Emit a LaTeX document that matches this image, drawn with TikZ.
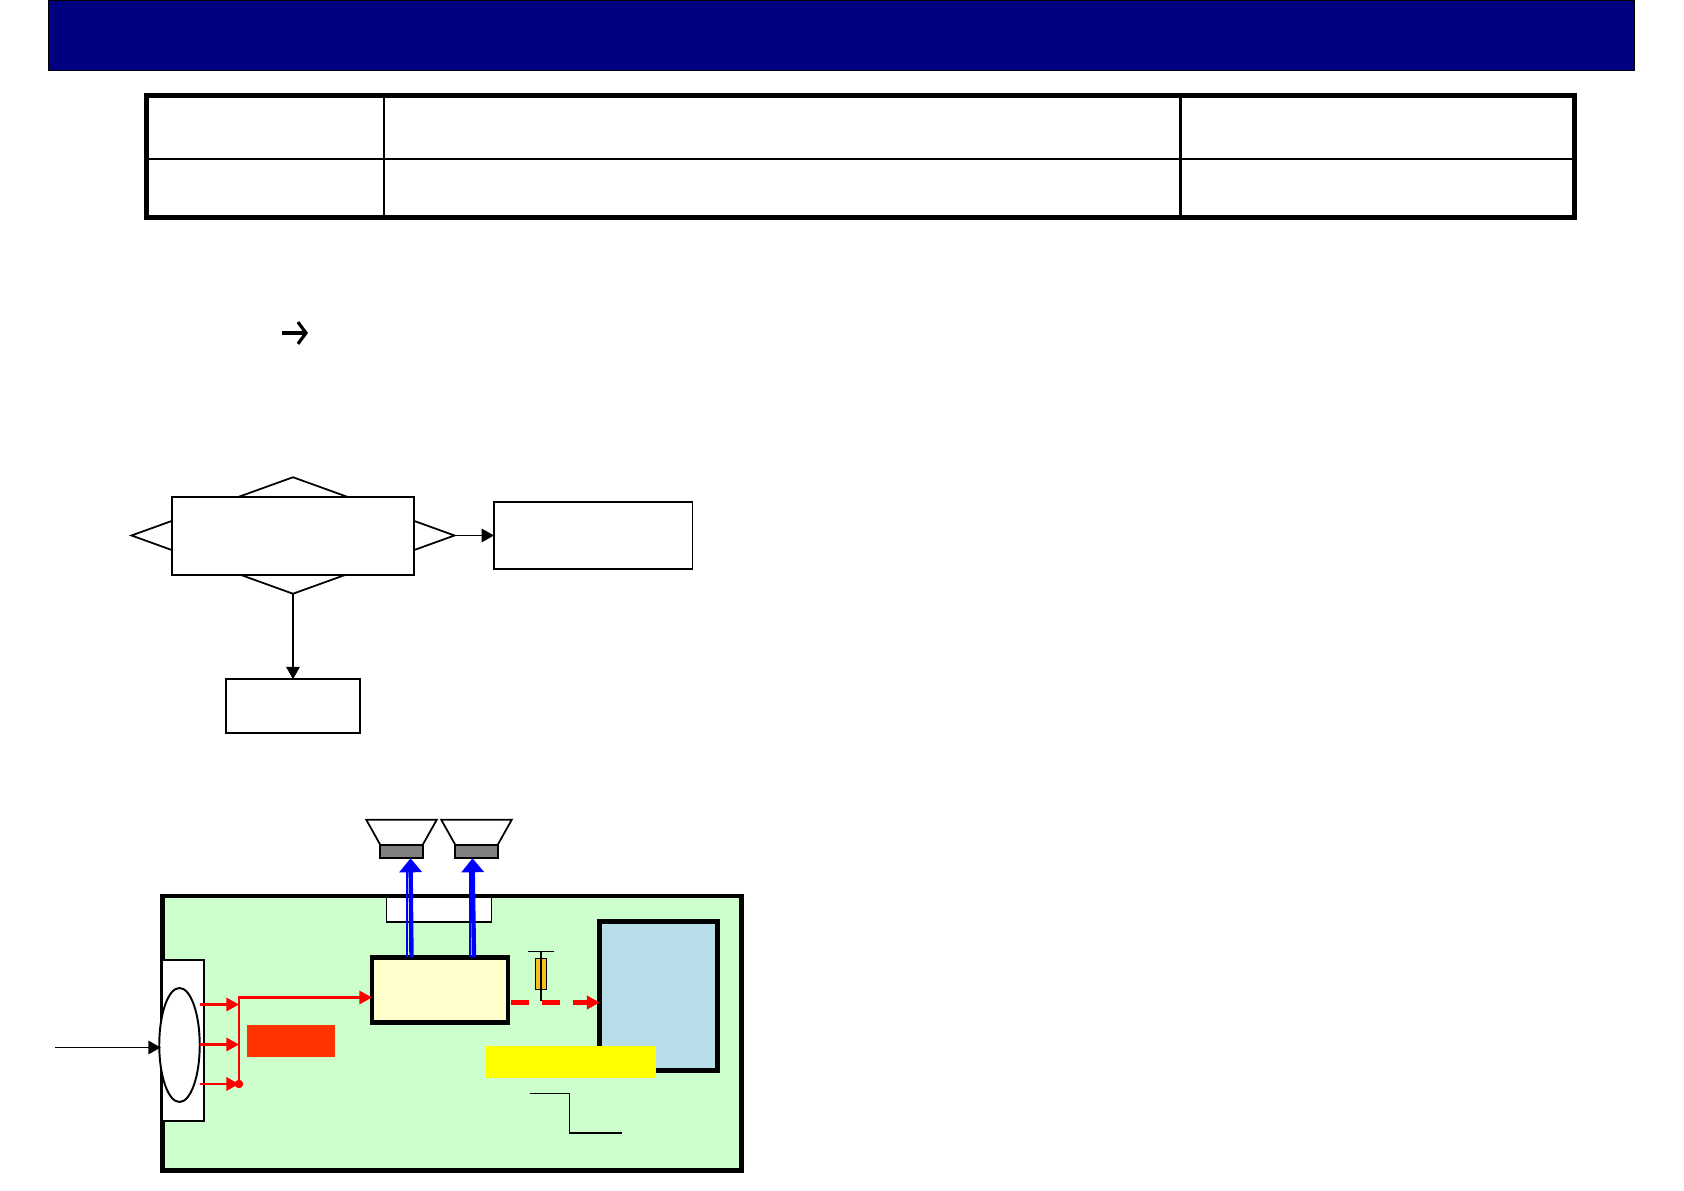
\documentclass[tikz,border=0pt]{standalone}
\usepackage{xcolor}
\usepackage{tikz}
\usetikzlibrary{arrows.meta,positioning,shapes.geometric,calc}
\definecolor{SlideNavy}{HTML}{000080}
\definecolor{BoardGreen}{HTML}{CCFFCC}
\definecolor{AmpCream}{HTML}{FFFFCC}
\definecolor{PanelBlue}{HTML}{B7DEE8}
\definecolor{TagOrange}{HTML}{FF3300}
\definecolor{TagYellow}{HTML}{FFFF00}
\definecolor{FuseGold}{HTML}{F5BE1E}
\definecolor{FeedRed}{HTML}{FF0000}
\definecolor{FeedBlue}{HTML}{0000FF}
\definecolor{MagnetGray}{HTML}{808080}

\begin{document}
\begin{tikzpicture}[
  box/.style={draw=black, line width=1pt, fill=white, minimum width=#1, inner sep=0pt, outer sep=0pt},
  heavybox/.style={draw=black, line width=2.6pt, fill=#1, inner sep=0pt, outer sep=0pt},
  tag/.style={fill=#1, inner sep=0pt, outer sep=0pt},
  arrow/.style={-{Triangle[length=7pt, width=7.6pt]}, line width=1pt, color=black},
  redfeed/.style={-{Triangle[length=7.2pt, width=7.6pt]}, line width=1.3pt, color=FeedRed},
  bluefeed/.style={-{Triangle[length=8pt, width=12.6pt]}, line width=2.5pt, color=FeedBlue}
]
\useasboundingbox (0,0) rectangle (33.68,23.82);

% title bar and table
\node[draw=black, line width=0.3pt, fill=SlideNavy, minimum width=31.71cm, minimum height=1.40cm, inner sep=0pt] (titlebar) at (16.82,23.12) {};
\node[draw=black, line width=2.8pt, minimum width=28.56cm, minimum height=2.44cm, inner sep=0pt, outer sep=0pt] (revtable) at (17.21,20.69) {};
\draw[line width=1.2pt] ($(revtable.north west)+(4.75,0)$) -- ($(revtable.south west)+(4.75,0)$);
\draw[line width=1.2pt] ($(revtable.north west)+(20.68,0)$) -- ($(revtable.south west)+(20.68,0)$);
\draw[line width=1.2pt] ($(revtable.north west)+(0,-1.27)$) -- ($(revtable.north east)+(0,-1.27)$);

% arrow in the text line
\coordinate (notetail) at (5.64,17.16);
\coordinate (notetip) at (6.16,17.16);
\draw[-{Straight Barb[length=4.6pt, width=12.4pt]}, line width=1.8pt] (notetail) -- (notetip);

% flow chart
\node[diamond, aspect=2.77, box=6.46cm, minimum height=2.33cm] (choice) at (5.86,13.11) {};
\node[box=4.85cm, minimum height=1.55cm] (question) at (5.86,13.10) {};
\node[box=3.97cm, minimum height=1.33cm, right=0.79cm of choice] (yesbox) {};
\node[box=2.68cm, minimum height=1.07cm, below=1.71cm of choice] (nobox) {};
\draw[arrow] (choice.east) -- (yesbox.west);
\draw[arrow] (choice.south) -- (nobox.north);

% board
\node[heavybox=BoardGreen, minimum width=11.59cm, minimum height=5.49cm] (board) at (9.04,3.155) {};
\node[box=0.84cm, minimum height=3.21cm] (socket) at (3.66,3.01) {};
\node[ellipse, box=0.81cm, minimum height=2.28cm, line width=1.1pt] (plug) at (3.59,2.92) {};
\node[box=2.10cm, minimum height=0.49cm] (jack) at (8.78,5.63) {};
\node[heavybox=AmpCream, minimum width=2.72cm, minimum height=1.30cm] (amp) at (8.80,4.02) {};
\node[heavybox=PanelBlue, minimum width=2.35cm, minimum height=2.98cm] (panel) at (13.17,3.90) {};
\node[tag=TagYellow, minimum width=3.40cm, minimum height=0.63cm] (yellowtag) at (11.42,2.58) {};
\node[tag=TagOrange, minimum width=1.76cm, minimum height=0.64cm] (orangetag) at (5.82,3.00) {};

% speakers
\node[box=0.85cm, minimum height=0.27cm, fill=MagnetGray] (magnetl) at (8.03,6.79) {};
\node[box=0.85cm, minimum height=0.27cm, fill=MagnetGray] (magnetr) at (9.53,6.79) {};
\draw[line width=1pt] (magnetl.north west) -- ++(-0.28,0.50) -- ++(1.41,0) -- (magnetl.north east);
\draw[line width=1pt] (magnetr.north west) -- ++(-0.28,0.50) -- ++(1.41,0) -- (magnetr.north east);

% audio lines
\coordinate (feedl) at ($(magnetl.south)+(0.18,0)$);
\coordinate (feedr) at ($(magnetr.south)+(-0.08,0)$);
\draw[FeedBlue, line width=0.7pt] ($(feedl |- amp.north)+(-0.07,0)$) -- ($(feedl)+(-0.07,-0.2)$);
\draw[FeedBlue, line width=0.7pt] ($(feedr |- amp.north)+(-0.05,0)$) -- ($(feedr)+(-0.05,-0.2)$);
\draw[bluefeed] ($(feedl |- amp.north)+(0.02,0)$) -- (feedl);
\draw[bluefeed] ($(feedr |- amp.north)+(0.03,0)$) -- (feedr);

% power lines
\coordinate (busa) at (4.78,3.73);
\coordinate (busb) at (4.78,2.93);
\coordinate (busc) at (4.78,2.14);
\coordinate (bustop) at (4.78,3.87);
\draw[arrow] (1.09,2.87) coordinate (mainsin) -- ($(mainsin -| plug.west)+(0.03,0)$);
\draw[redfeed] (busa -| plug.east) -- (busa);
\draw[redfeed] (busb -| plug.east) -- (busb);
\draw[redfeed] (busc -| plug.east) -- (busc);
\draw[redfeed] (busc) -- (bustop) -- (bustop -| amp.west);
\node[circle, fill=FeedRed, minimum size=0.17cm, inner sep=0pt] (busdot) at (busc) {};

% fuse and dashed line to panel
\coordinate (dashstart) at ($(amp.east)+(0.06,-0.25)$);
\draw[-{Triangle[length=7.4pt, width=7.6pt]}, FeedRed, line width=2.4pt, dash pattern=on 10.2pt off 7.4pt] (dashstart) -- (dashstart -| panel.west);
\node[draw=black, line width=1pt, fill=FuseGold, minimum width=0.22cm, minimum height=0.62cm, inner sep=0pt] (fuse) at (10.82,4.34) {};
\coordinate (fusetop) at (10.82,4.79);
\coordinate (fuselow) at (10.82,3.80);
\draw[line width=0.9pt] (fusetop) -- (fuselow);
\draw[line width=0.7pt] ($(fusetop)+(-0.26,0)$) -- ($(fusetop)+(0.26,0)$);

% trace below the panel
\coordinate (tracea) at (10.59,1.95);
\coordinate (tracemid) at (11.39,1.95);
\coordinate (tracec) at (12.44,1.16);
\draw[line width=0.8pt] (tracea) -- (tracemid) |- (tracec);
\end{tikzpicture}
\end{document}
